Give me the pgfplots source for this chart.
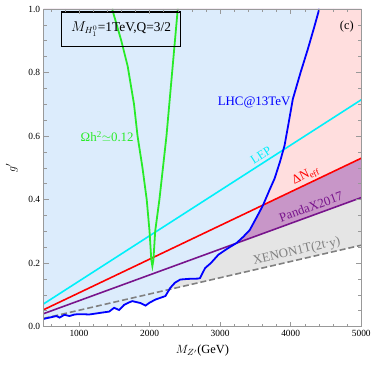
\documentclass[border=0pt]{standalone}
\usepackage{pgfplots}
\pgfplotsset{compat=1.18}
\usepackage{fontspec}
\setmainfont{Liberation Serif}
\definecolor{fillblue}{RGB}{220,236,252}
\definecolor{fillpink}{RGB}{255,222,222}
\definecolor{fillpurple}{RGB}{200,150,200}
\definecolor{fillgray}{RGB}{229,229,229}
\definecolor{lhcblue}{RGB}{0,0,255}
\definecolor{lepcyan}{RGB}{0,240,250}
\definecolor{nred}{RGB}{255,0,0}
\definecolor{dmgreen}{RGB}{40,235,40}
\definecolor{pandapurple}{RGB}{120,20,140}
\definecolor{xenongray}{RGB}{128,128,128}
\begin{document}
\begin{tikzpicture}
\begin{axis}[
  scale only axis,
  width=320pt, height=320pt,
  xmin=500, xmax=5000, ymin=0, ymax=1,
  xtick={1000,2000,3000,4000,5000},
  minor xtick={600,800,1200,1400,1600,1800,2200,2400,2600,2800,3200,3400,3600,3800,4200,4400,4600,4800},
  ytick={0,0.2,0.4,0.6,0.8,1.0},
  minor ytick={0.05,0.1,0.15,0.25,0.3,0.35,0.45,0.5,0.55,0.65,0.7,0.75,0.85,0.9,0.95},
  tick pos=both, tick align=inside,
  major tick length=5pt, minor tick length=3pt,
  axis line style={gray!80},
  every tick/.style={gray!80},
  /pgf/number format/assume math mode=true,
  xticklabel style={/pgf/number format/1000 sep={}},
  yticklabel style={/pgf/number format/fixed, /pgf/number format/fixed zerofill, /pgf/number format/precision=1},
  tick label style={font=\fontsize{9.5}{10}\selectfont},
  xlabel={$M_{Z'}$(GeV)},
  ylabel={$g'$},
  label style={font=\fontsize{12.5}{14}\selectfont},
  xlabel style={yshift=-2pt},
  ylabel style={yshift=4pt},
  axis on top,
  clip=true,
]
% XENON1T excluded region
\addplot[fill=fillgray, draw=none] coordinates {(500,0.0256) (5000,0.256) (5000,1) (500,1)} -- cycle;
% PandaX2017 excluded region
\addplot[fill=fillpurple, draw=none] coordinates {(500,0.0406) (5000,0.406) (5000,1) (500,1)} -- cycle;
% Delta N_eff excluded region
\addplot[fill=fillpink, draw=none] coordinates {(500,0.053) (5000,0.53) (5000,1) (500,1)} -- cycle;
% LHC excluded region
\addplot[fill=fillblue, draw=none] coordinates {
 (500,0.024) (560,0.027) (620,0.030) (680,0.033) (725,0.028) (795,0.037)
 (865,0.033) (940,0.038) (1006,0.039) (1147,0.038) (1241,0.041) (1330,0.044)
 (1428,0.047) (1498,0.059) (1569,0.052) (1639,0.068) (1700,0.075) (1756,0.080)
 (1870,0.074) (1944,0.066) (2000,0.075) (2084,0.085) (2225,0.096) (2295,0.122)
 (2360,0.138) (2436,0.148) (2550,0.150) (2694,0.151) (2717,0.153) (2787,0.184)
 (2870,0.200) (2975,0.226) (3100,0.245) (3233,0.263) (3330,0.283) (3420,0.304)
 (3520,0.345) (3608,0.382) (3700,0.430) (3772,0.466) (3850,0.520) (3913,0.570)
 (3970,0.640) (4030,0.716) (4140,0.800) (4241,0.872) (4330,0.940) (4405,1.0)
 (500,1.0)} -- cycle;
% LEP
\addplot[lepcyan, line width=1.6pt] coordinates {(500,0.0714) (5000,0.714)};
% Delta N_eff
\addplot[nred, line width=1.6pt] coordinates {(500,0.053) (5000,0.53)};
% PandaX2017
\addplot[pandapurple, line width=1.6pt] coordinates {(500,0.0406) (5000,0.406)};
% XENON1T
\addplot[xenongray, line width=1.6pt, dash pattern=on 6pt off 3pt] coordinates {(500,0.0256) (5000,0.256)};
% LHC@13TeV
\addplot[lhcblue, line width=1.8pt] coordinates {
 (500,0.024) (560,0.027) (620,0.030) (680,0.033) (725,0.028) (795,0.037)
 (865,0.033) (940,0.038) (1006,0.039) (1147,0.038) (1241,0.041) (1330,0.044)
 (1428,0.047) (1498,0.059) (1569,0.052) (1639,0.068) (1700,0.075) (1756,0.080)
 (1870,0.074) (1944,0.066) (2000,0.075) (2084,0.085) (2225,0.096) (2295,0.122)
 (2360,0.138) (2436,0.148) (2550,0.150) (2694,0.151) (2717,0.153) (2787,0.184)
 (2870,0.200) (2975,0.226) (3100,0.245) (3233,0.263) (3330,0.283) (3420,0.304)
 (3520,0.345) (3608,0.382) (3700,0.430) (3772,0.466) (3850,0.520) (3913,0.570)
 (3970,0.640) (4030,0.716) (4140,0.800) (4241,0.872) (4330,0.940) (4405,1.0)};
% relic density
\addplot[dmgreen, line width=1.8pt] coordinates {
 (1470,1.0) (1600,0.9) (1690,0.82) (1780,0.70) (1830,0.60) (1900,0.50)
 (1960,0.40) (2000,0.30) (2025,0.21) (2040,0.19) (2055,0.21) (2080,0.30)
 (2140,0.40) (2190,0.50) (2240,0.60) (2280,0.70) (2320,0.80) (2360,0.90) (2400,1.0)};
\node[draw=black, line width=1.3pt, minimum width=120pt, minimum height=35pt, inner sep=2pt, font=\fontsize{13.5}{15}\selectfont] at (axis cs:1597,0.936) {$M_{H_1^0}$=1TeV,Q=3/2};
\node[font=\fontsize{12.5}{14}\selectfont] at (axis cs:4796,0.945) {(c)};
\node[dmgreen, font=\fontsize{13}{15}\selectfont] at (axis cs:1400,0.597) {Ωh\textsuperscript{2}$\simeq$0.12};
\node[lhcblue, font=\fontsize{13}{15}\selectfont] at (axis cs:3481,0.706) {LHC@13TeV};
\node[lepcyan, rotate=32.7, font=\fontsize{12.5}{14}\selectfont] at (axis cs:3580,0.54) {LEP};
\node[nred, rotate=25.5, font=\fontsize{13}{15}\selectfont] at (axis cs:4212,0.475) {ΔN\textsubscript{eff}};
\node[pandapurple, rotate=20, font=\fontsize{13}{15}\selectfont] at (axis cs:4287,0.377) {PandaX2017};
\node[xenongray, rotate=13, font=\fontsize{13}{15}\selectfont] at (axis cs:4086,0.236) {XENON1T(2t·y)};
\end{axis}
\useasboundingbox (current axis.south west) ++(-44pt,-41pt) rectangle ([shift={(10pt,9pt)}]current axis.north east);
\end{tikzpicture}
\end{document}
